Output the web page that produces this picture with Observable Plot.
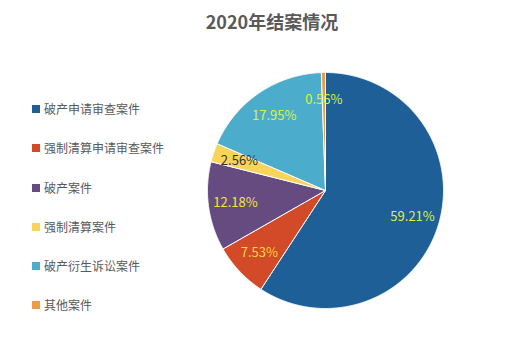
<!DOCTYPE html>
<html>
<head>
<meta charset="utf-8">
<script src="https://cdn.jsdelivr.net/npm/d3@7"></script>
<script src="https://cdn.jsdelivr.net/npm/@observablehq/plot@0.6"></script>
<style>
  html, body { margin: 0; padding: 0; background: #fff; }
  body { width: 506px; height: 355px; overflow: hidden; font-family: "Noto Sans CJK SC", "Noto Sans", sans-serif; }
  #wrap { position: relative; width: 506px; height: 355px; }
  #title { height: 40px; line-height: 42px; text-align: center; padding-left: 38px; font-size: 18px; font-weight: bold; color: #595959; }
  #legend { position: absolute; left: 32px; top: 101px; }
  .item { height: 39.3px; display: flex; align-items: flex-start; font-size: 12px; color: #595959; line-height: 16px; }
  .sw { width: 8px; height: 8px; margin: 4px 4px 0 0; }
</style>
</head>
<body>
<div id="wrap">
  <div id="title">2020年结案情况</div>
  <div id="chart"></div>
  <div id="legend"></div>
</div>
<script>
const categories = ["破产申请审查案件", "强制清算申请审查案件", "破产案件", "强制清算案件", "破产衍生诉讼案件", "其他案件"];
const values = [59.21, 7.53, 12.18, 2.56, 17.95, 0.56];
const labels = ["59.21%", "7.53%", "12.18%", "2.56%", "17.95%", "0.56%"];
const colors = ["#1f5f97", "#d24a27", "#654b80", "#f8d45a", "#4baccb", "#ef9a4a"];
const labelColors = ["#d8f24a", "#f7d63c", "#f2e63c", "#333333", "#d8f24a", "#d8f24a"];

const cx = 325, cy = 150, R = 118, H = 315;

const pie = d3.pie().sort(null).value(d => d.value)(categories.map((c, i) => ({c, i, value: values[i]})));

const slicePts = [];
for (const a of pie) {
  const n = Math.max(2, Math.ceil((a.endAngle - a.startAngle) / 0.005));
  slicePts.push({c: a.data.c, x: 0, y: 0});
  for (let k = 0; k <= n; k++) {
    const t = a.startAngle + (a.endAngle - a.startAngle) * k / n;
    slicePts.push({c: a.data.c, x: Math.sin(t), y: Math.cos(t)});
  }
  slicePts.push({c: a.data.c, x: 0, y: 0});
}
const lr = 0.77;
const labelPts = pie.map(a => {
  const m = (a.startAngle + a.endAngle) / 2;
  return {c: a.data.c, text: labels[a.data.i], fill: labelColors[a.data.i], x: lr * Math.sin(m), y: lr * Math.cos(m)};
});

const chart = Plot.plot({
  width: 506,
  height: H,
  margin: 0,
  x: {domain: [-1, 1], range: [cx - R, cx + R], axis: null},
  y: {domain: [-1, 1], range: [cy + R, cy - R], axis: null},
  color: {domain: categories, range: colors},
  style: {background: "white", overflow: "visible"},
  marks: [
    Plot.line(slicePts, {x: "x", y: "y", z: "c", fill: "c", stroke: "white", strokeWidth: 1, strokeLinejoin: "round", curve: "linear"}),
    Plot.text(labelPts, {x: "x", y: "y", text: "text", fill: d => d.fill, fontSize: 13, fontFamily: "Noto Sans CJK SC, Noto Sans, sans-serif"})
  ]
});
document.getElementById("chart").appendChild(chart);

const lg = d3.select("#legend");
categories.forEach((c, i) => {
  const it = lg.append("div").attr("class", "item");
  it.append("div").attr("class", "sw").style("background", colors[i]);
  it.append("span").text(c);
});
</script>
</body>
</html>
